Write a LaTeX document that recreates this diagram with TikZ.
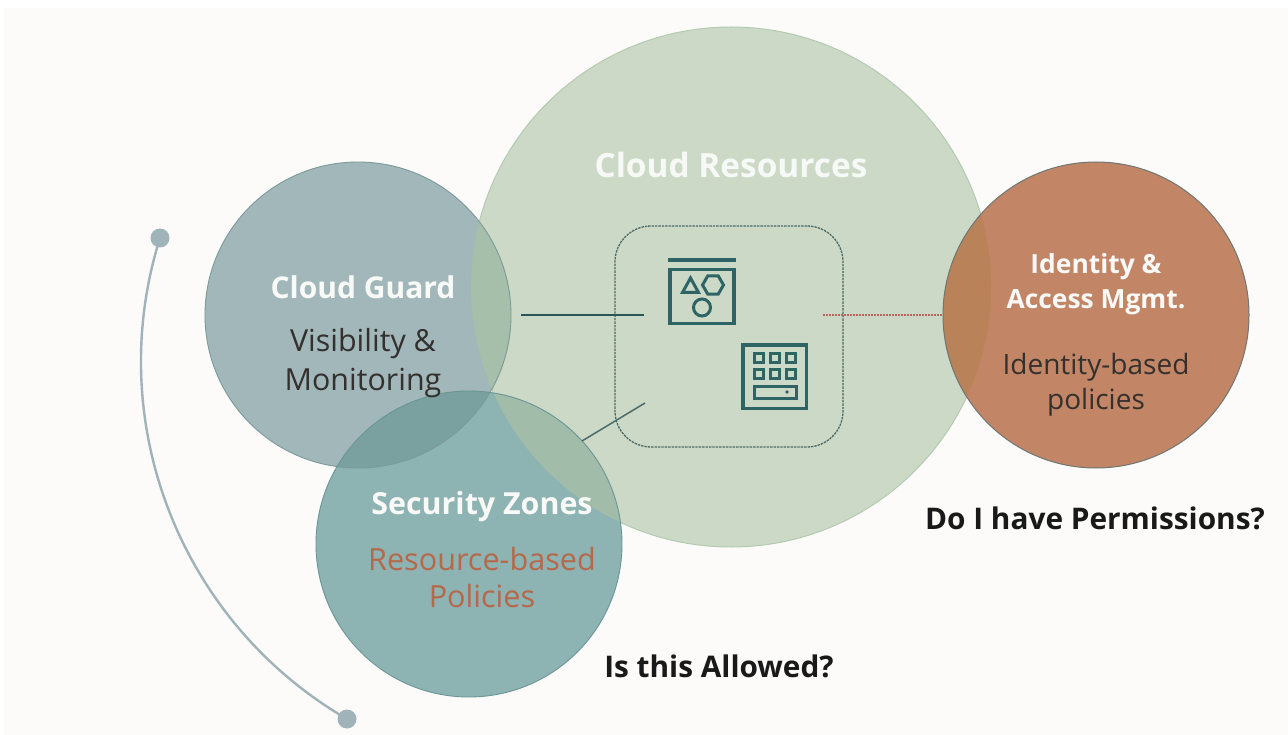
\documentclass[tikz,border=0pt]{standalone}
\usepackage{fontspec}
\setmainfont{Open Sans}
\definecolor{pagebg}{HTML}{FCFBF9}
\definecolor{bigfill}{HTML}{CBD9C6}
\definecolor{bigline}{HTML}{B4CBB2}
\definecolor{guardfill}{HTML}{A2B7B9}
\definecolor{guardline}{HTML}{7B9A9A}
\definecolor{zonefill}{HTML}{8EB3B3}
\definecolor{zoneline}{HTML}{6B9696}
\definecolor{iamfill}{HTML}{C28565}
\definecolor{iamline}{HTML}{6E7773}
\definecolor{guardbig}{HTML}{A6BFAB}
\definecolor{zonebig}{HTML}{A2BCAA}
\definecolor{zoneguard}{HTML}{7BA0A0}
\definecolor{iambig}{HTML}{BA8259}
\definecolor{icon}{HTML}{2F6467}
\definecolor{dashc}{HTML}{4D6B68}
\definecolor{redl}{HTML}{B5685A}
\definecolor{arcc}{HTML}{9FB3B8}
\definecolor{rust}{HTML}{B5684A}
\definecolor{whitish}{HTML}{F9FAF7}
\definecolor{inkk}{HTML}{33302E}
\tikzset{
  disc/.style={circle,minimum size=306pt,inner sep=0pt,outer sep=0pt},
  title/.style={font=\fontsize{30}{32}\selectfont\bfseries,text=whitish,inner sep=0pt},
  subt/.style={font=\fontsize{30.4}{32}\selectfont,text=inkk,inner sep=0pt},
  iamt/.style={font=\fontsize{26.4}{28}\selectfont\bfseries,text=whitish,inner sep=0pt},
  iams/.style={font=\fontsize{28}{28}\selectfont,text=inkk,inner sep=0pt},
  ask/.style={font=\fontsize{29.8}{32}\selectfont\bfseries,text=black!90,inner sep=0pt},
  dotnode/.style={circle,fill=arcc,minimum size=19pt,inner sep=0pt,outer sep=0pt},
  iconline/.style={draw=icon,line width=3.8pt,line join=miter},
  iconthin/.style={draw=icon,line width=3pt},
}
\begin{document}
\begin{tikzpicture}[x=1pt,y=-1pt]
\useasboundingbox (0,0) rectangle (1288,735);
\fill[pagebg] (4,8) rectangle (1288,735);
% discs
\node[disc,minimum size=520pt,fill=bigfill,draw=bigline,line width=1pt] (big) at (731,287) {};
\node[disc,fill=guardfill] (guard) at (358,315) {};
\node[disc,fill=zonefill] (zone) at (469,544) {};
\node[disc,fill=iamfill] (iam) at (1096,315) {};
% overlaps
\begin{scope}\clip (big.center) circle[radius=260pt];
  \fill[guardbig] (guard.center) circle[radius=153pt];
  \fill[zonebig] (zone.center) circle[radius=153pt];
  \fill[iambig] (iam.center) circle[radius=153pt];
\end{scope}
\begin{scope}\clip (guard.center) circle[radius=153pt];
  \fill[zoneguard] (zone.center) circle[radius=153pt];
\end{scope}
% outlines
\draw[guardline,line width=.9pt] (guard.center) circle[radius=153pt];
\draw[zoneline,line width=.9pt] (zone.center) circle[radius=153pt];
\draw[iamline,line width=1pt] (iam.center) circle[radius=153pt];
% dashed box
\node[draw=dashc,line width=1.3pt,dash pattern=on 2.4pt off 1pt,rounded corners=36pt,minimum width=228pt,minimum height=221pt,inner sep=0pt] (box) at (729,336.5) {};
% connectors
\coordinate (gl1) at (521,315); \coordinate (gl2) at (644,315);
\coordinate (rl1) at (823,315); \coordinate (rl2) at (943,315);
\coordinate (zl1) at (582,441); \coordinate (zl2) at (645,403);
\draw[icon!85!black,line width=1.6pt] (gl1) -- (gl2);
\draw[redl,line width=1.3pt,dash pattern=on 2pt off 1pt] (rl1) -- (rl2);
\draw[dashc,line width=1.5pt] (zl1) -- (zl2);
% icon one
\fill[icon] (668,258) rectangle (736,262.5);
\draw[iconline] (670,269.5) rectangle (734,323.5);
\draw[iconthin,line join=miter] (682.5,292.5) -- (690.5,278) -- (698.5,292.5) -- cycle;
\draw[iconthin] (713,285) +(0:10.5) -- +(60:10.5) -- +(120:10.5) -- +(180:10.5) -- +(240:10.5) -- +(300:10.5) -- cycle;
\draw[iconthin] (702,307.5) circle[radius=8.5pt];
% icon two
\draw[iconline] (743,345) rectangle (806.5,408.5);
\foreach \xx in {759,775,791} \foreach \yy in {358,374}
  \draw[draw=icon,line width=3pt] (\xx-4.2,\yy-4.2) rectangle (\xx+4.2,\yy+4.2);
\draw[draw=icon,line width=3pt] (754,386.5) rectangle (796,398.5);
\fill[icon] (787,392) circle[radius=1.8pt];
% arc
\node[dotnode] (d1) at (160,238) {};
\node[dotnode] (d2) at (347,719) {};
\draw[arcc,line width=2.4pt] (d1.center) .. controls (102,422) and (180,622) .. (d2.center);
% texts
\node[title,font=\fontsize{33.4}{36}\selectfont\bfseries,text=white!85!bigfill] (tres) at (731,165) {Cloud Resources};
\node[title] (tg) at (363,287) {Cloud Guard};
\node[subt] (sg1) at (363,344) {Visibility \&};
\node[subt] (sg2) at (363,383) {Monitoring};
\node[title,font=\fontsize{30.4}{34}\selectfont\bfseries] (tz) at (482,507) {Security Zones};
\node[subt,font=\fontsize{30.6}{32}\selectfont,text=rust] (sz1) at (482,559) {Resource-based};
\node[subt,font=\fontsize{30.6}{32}\selectfont,text=rust] (sz2) at (482,596) {Policies};
\node[iamt] (ti1) at (1096,267) {Identity \&};
\node[iamt] (ti2) at (1096,302) {Access Mgmt.};
\node[iams] (si1) at (1096,367) {Identity-based};
\node[iams] (si2) at (1096,402) {policies};
\node[ask] (q1) at (1095,518) {Do I have Permissions?};
\node[ask] (q2) at (719,666) {Is this Allowed?};
\end{tikzpicture}
\end{document}
